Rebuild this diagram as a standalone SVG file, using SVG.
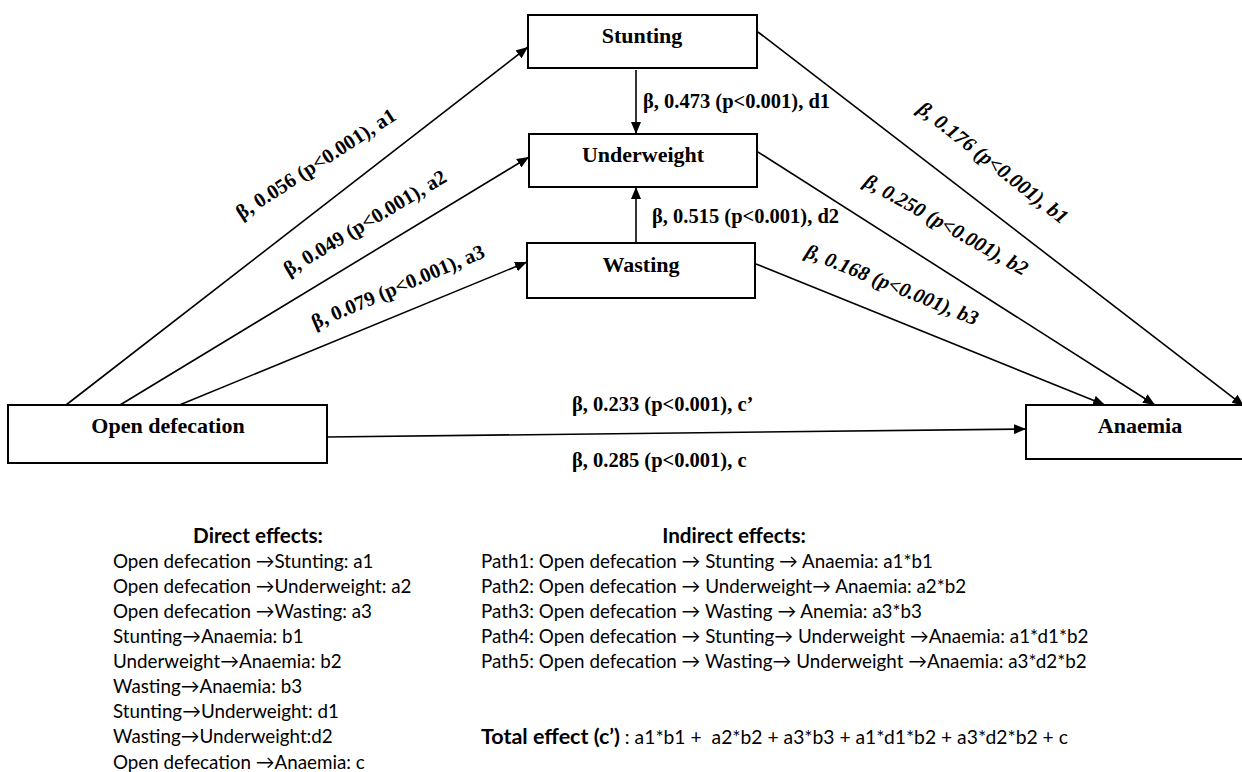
<svg xmlns="http://www.w3.org/2000/svg" width="1242" height="772" viewBox="0 0 1242 772">
<style>
.box{fill:#fff;stroke:#000;stroke-width:2}
.bt{font-family:"Liberation Serif","Times New Roman",serif;font-weight:bold;font-size:22px;text-anchor:middle;fill:#000}
.lab{font-family:"Liberation Serif","Times New Roman",serif;font-weight:bold;font-size:20.5px;fill:#000}
.it{font-style:italic}
.ln{stroke:#000;stroke-width:1.6;fill:none}
.tx{font-family:Lato,"Noto Sans","DejaVu Sans",sans-serif;font-size:18.8px;fill:#000}
.hd{font-weight:bold;text-anchor:middle;font-size:20.7px}
</style>
<defs>
<marker id="ah" markerUnits="userSpaceOnUse" markerWidth="13" markerHeight="10" refX="12" refY="5" orient="auto">
<path d="M0,0 L12,5 L0,10 z" fill="#000"/>
</marker>
</defs>
<rect width="1242" height="772" fill="#fff"/>
<g id="connectors">
<line class="ln" x1="66" y1="405" x2="528" y2="47" marker-end="url(#ah)"/>
<line class="ln" x1="120" y1="405" x2="529" y2="157" marker-end="url(#ah)"/>
<line class="ln" x1="177" y1="406" x2="527" y2="262" marker-end="url(#ah)"/>
<line class="ln" x1="327" y1="437" x2="1026" y2="429" marker-end="url(#ah)"/>
<line class="ln" x1="758" y1="32" x2="1244" y2="406" marker-end="url(#ah)"/>
<line class="ln" x1="758" y1="152" x2="1155" y2="405" marker-end="url(#ah)"/>
<line class="ln" x1="756" y1="264" x2="1105" y2="405" marker-end="url(#ah)"/>
<line class="ln" x1="636" y1="70" x2="636" y2="134" marker-end="url(#ah)"/>
<line class="ln" x1="636" y1="243" x2="636" y2="187" marker-end="url(#ah)"/>
<g id="connector-labels">
<text class="lab" text-anchor="middle" transform="translate(316,164) rotate(-33)" y="6.5">β, 0.056 (p&lt;0.001), a1</text>
<text class="lab" text-anchor="middle" transform="translate(365,223) rotate(-31)" y="6.5">β, 0.049 (p&lt;0.001), a2</text>
<text class="lab" text-anchor="middle" transform="translate(398,287) rotate(-23)" y="6.5">β, 0.079 (p&lt;0.001), a3</text>
<text class="lab it" text-anchor="middle" transform="translate(993,163) rotate(38)" y="6.5">β, 0.176 (p&lt;0.001), b1</text>
<text class="lab it" text-anchor="middle" transform="translate(946,225) rotate(29.5)" y="6.5">β, 0.250 (p&lt;0.001), b2</text>
<text class="lab it" text-anchor="middle" transform="translate(892,285) rotate(22)" y="6.5">β, 0.168 (p&lt;0.001), b3</text>
<text class="lab" x="643" y="108">β, 0.473 (p&lt;0.001), d1</text>
<text class="lab" x="652" y="223">β, 0.515 (p&lt;0.001), d2</text>
<text class="lab" x="572" y="411">β, 0.233 (p&lt;0.001), c’</text>
<text class="lab" x="572" y="467">β, 0.285 (p&lt;0.001), c</text>
</g>
</g>
<g id="stunting"><rect class="box" x="528" y="15" width="229" height="53"/><text class="bt" x="642" y="43">Stunting</text></g>
<g id="underweight"><rect class="box" x="529" y="134" width="228" height="53"/><text class="bt" x="643" y="162">Underweight</text></g>
<g id="wasting"><rect class="box" x="527" y="243" width="228" height="55"/><text class="bt" x="641" y="272">Wasting</text></g>
<g id="open-defecation"><rect class="box" x="8" y="405" width="319" height="58"/><text class="bt" x="168" y="433">Open defecation</text></g>
<g id="anaemia"><rect class="box" x="1026" y="405" width="232" height="54"/><text class="bt" x="1140" y="433">Anaemia</text></g>
<g id="direct-effects" class="tx">
<text class="hd" x="258" y="543">Direct effects:</text>
<text x="113" y="568">Open defecation →Stunting: a1</text>
<text x="113" y="593">Open defecation →Underweight: a2</text>
<text x="113" y="618">Open defecation →Wasting: a3</text>
<text x="113" y="643">Stunting→Anaemia: b1</text>
<text x="113" y="668">Underweight→Anaemia: b2</text>
<text x="113" y="693">Wasting→Anaemia: b3</text>
<text x="113" y="718">Stunting→Underweight: d1</text>
<text x="113" y="743">Wasting→Underweight:d2</text>
<text x="113" y="769">Open defecation →Anaemia: c</text>
</g>
<g id="indirect-effects" class="tx">
<text class="hd" x="734" y="543">Indirect effects:</text>
<text x="481" y="568">Path1: Open defecation → Stunting → Anaemia: a1*b1</text>
<text x="481" y="593">Path2: Open defecation → Underweight→ Anaemia: a2*b2</text>
<text x="481" y="618">Path3: Open defecation → Wasting → Anemia: a3*b3</text>
<text x="481" y="643">Path4: Open defecation → Stunting→ Underweight →Anaemia: a1*d1*b2</text>
<text x="481" y="668">Path5: Open defecation → Wasting→ Underweight →Anaemia: a3*d2*b2</text>
</g>
<g id="total-effect" class="tx">
<text x="481" y="744" font-size="19.3"><tspan font-weight="bold" font-size="21.5">Total effect (c’)</tspan> : a1*b1 +&#160; a2*b2 + a3*b3 + a1*d1*b2 + a3*d2*b2 + c</text>
</g>
</svg>
